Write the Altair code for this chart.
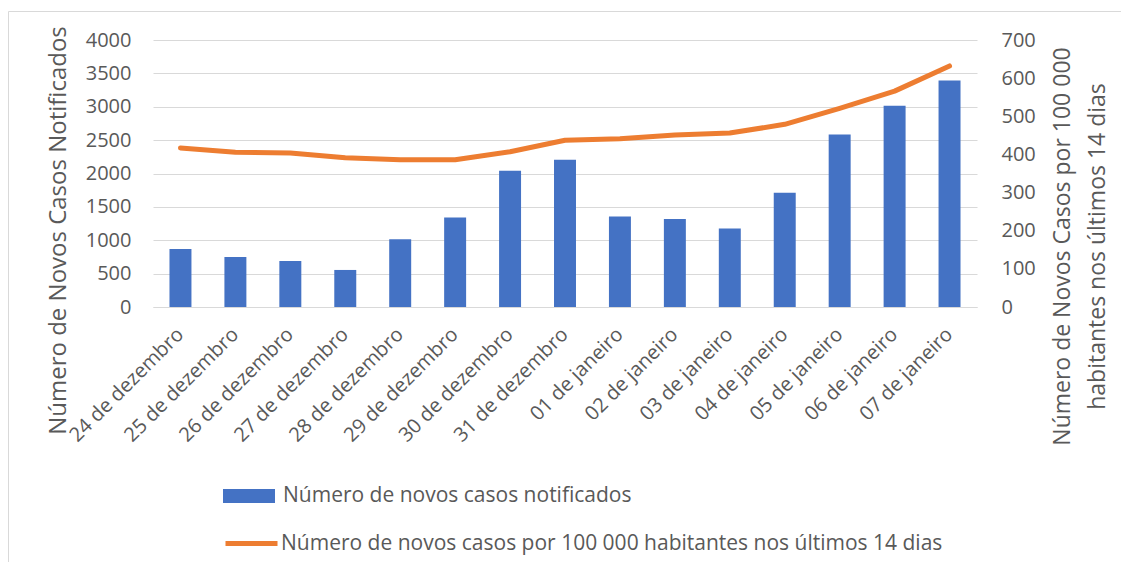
import altair as alt
import pandas as pd

datas = ["24 de dezembro", "25 de dezembro", "26 de dezembro", "27 de dezembro",
         "28 de dezembro", "29 de dezembro", "30 de dezembro", "31 de dezembro",
         "01 de janeiro", "02 de janeiro", "03 de janeiro", "04 de janeiro",
         "05 de janeiro", "06 de janeiro", "07 de janeiro"]
casos = [870, 750, 690, 555, 1015, 1340, 2040, 2205, 1355, 1320, 1175, 1710, 2585, 3015, 3395]
incidencia = [417, 406, 404, 391, 386, 386, 407, 437, 441, 451, 456, 479, 521, 566, 632]

serie_barras = "Número de novos casos notificados"
serie_linha = "Número de novos casos por 100 000 habitantes nos últimos 14 dias"

ticks_esq = [0, 500, 1000, 1500, 2000, 2500, 3000, 3500, 4000]
ticks_dir = [0, 100, 200, 300, 400, 500, 600, 700]

df = pd.DataFrame({
    "data": datas,
    "casos": casos,
    "incidencia": incidencia,
    "sb": [serie_barras] * len(datas),
    "sl": [serie_linha] * len(datas),
})

AZUL = "#4472C4"
LARANJA = "#ED7D31"
TEXTO = "#595959"
GRELHA = "#D9D9D9"
FONTE = "Open Sans"

x = alt.X("data:N", sort=datas, title=None,
          scale=alt.Scale(paddingInner=0.6, paddingOuter=0.3),
          axis=alt.Axis(labelAngle=-45, labelAlign="right", labelBaseline="middle",
                        labelPadding=24, labelFontSize=20, labelColor=TEXTO,
                        ticks=False, domainColor=GRELHA, domainWidth=1.2,
                        grid=False, labelLimit=300))

base = alt.Chart(df)

# chart-area frame (only its top and left edges fall inside the picture)
moldura = alt.Chart(pd.DataFrame({"k": [0]})).mark_rect(
    fillOpacity=0, stroke=GRELHA, strokeWidth=1
).encode(x=alt.value(-144.5), y=alt.value(-28.5), x2=alt.value(1200), y2=alt.value(700))

barras = base.mark_bar().encode(
    x=x,
    y=alt.Y("casos:Q", scale=alt.Scale(domain=[0, 4000], nice=False),
            axis=alt.Axis(values=ticks_esq, format="d",
                          title="Número de Novos Casos Notificados",
                          titleFontSize=24, titleFontWeight="normal", titleColor=TEXTO,
                          titleAngle=270, titleX=-95, titleY=190, titleBaseline="middle",
                          titleAlign="center",
                          labelFontSize=20, labelColor=TEXTO, labelPadding=22,
                          ticks=False, domain=False, grid=True, gridColor=GRELHA,
                          gridWidth=1.2)),
    fill=alt.Fill("sb:N", scale=alt.Scale(domain=[serie_barras], range=[AZUL]),
                  legend=alt.Legend(title=None, orient="none", legendX=70, legendY=430,
                                    symbolType="M-1,-0.27H1V0.27H-1Z", symbolSize=2704,
                                    symbolStrokeWidth=0, labelFontSize=21,
                                    labelColor=TEXTO, labelLimit=0, labelOffset=8,
                                    padding=0)),
)

linha = base.mark_line(strokeWidth=5, strokeCap="round", strokeJoin="round").encode(
    x=x,
    y=alt.Y("incidencia:Q", scale=alt.Scale(domain=[0, 700], nice=False),
            axis=alt.Axis(orient="right", values=ticks_dir, format="d",
                          title=["Número de Novos Casos por 100 000",
                                 "habitantes nos últimos 14 dias"],
                          titleFontSize=23, titleFontWeight="normal", titleColor=TEXTO,
                          titleAngle=270, titleX=85, titleY=206, titleBaseline="middle",
                          titleAlign="center", titleLineHeight=35,
                          labelFontSize=20, labelColor=TEXTO, labelPadding=24,
                          ticks=False, domain=False, grid=False)),
    stroke=alt.Stroke("sl:N", scale=alt.Scale(domain=[serie_linha], range=[LARANJA]),
                      legend=alt.Legend(title=None, orient="none", legendX=70, legendY=475,
                                        symbolType="stroke", symbolSize=2704,
                                        symbolStrokeWidth=5, labelFontSize=21,
                                        labelColor=TEXTO, labelLimit=0, labelOffset=1,
                                        padding=0)),
)

chart = alt.layer(moldura, barras, linha).resolve_scale(
    y="independent", fill="independent", stroke="independent"
).properties(
    width=824, height=267,
    padding={"left": 145, "top": 32, "right": 144, "bottom": 255},
    autosize=alt.AutoSizeParams(type="none"),
).configure(font=FONTE).configure_view(stroke=None)

chart.save("out.html", embed_options={"renderer": "svg", "actions": False})
